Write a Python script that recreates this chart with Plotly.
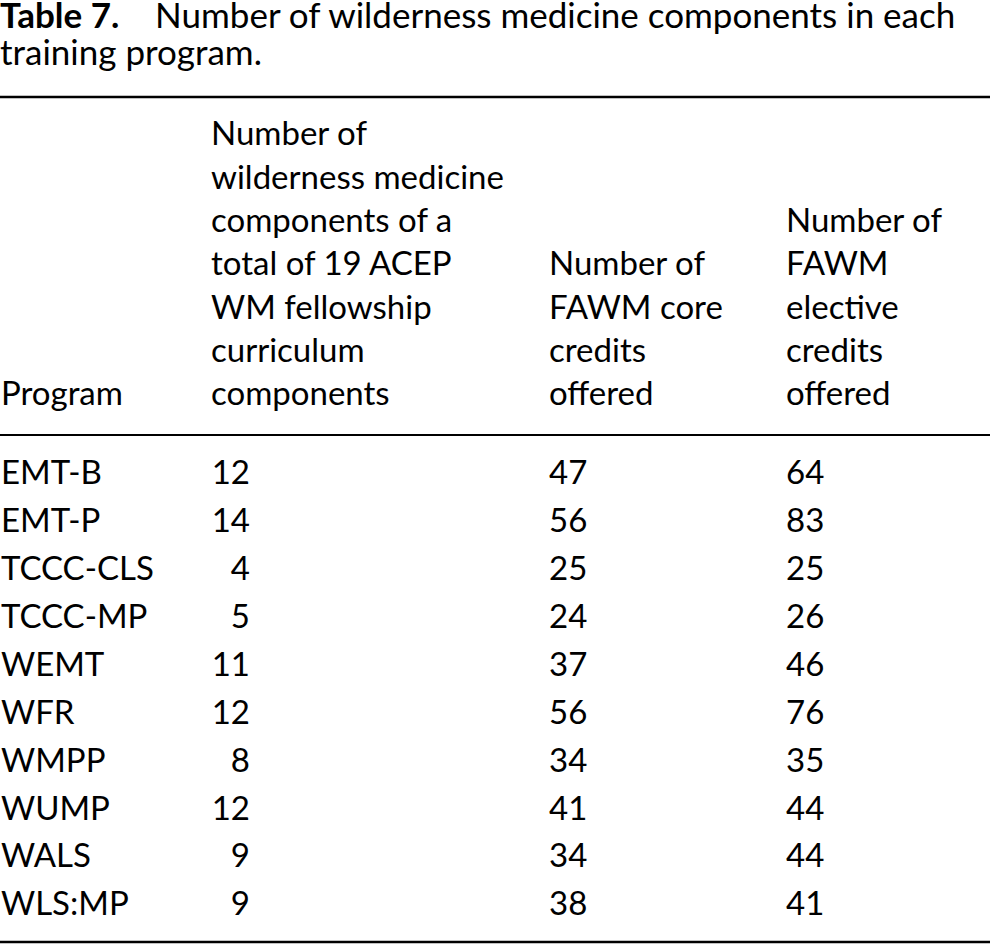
"""Table 7 rebuilt as a Plotly figure: wilderness medicine components per program."""

import plotly.graph_objects as go

FONT = "Lato"
SIZE = 33
TITLE_SIZE = 35

title_bold = "Table 7."
title_rest = "Number of wilderness medicine components in each"
title_line2 = "training program."

header_program = ["Program"]
header_components = ["Number of", "wilderness medicine", "components of a",
                     "total of 19 ACEP", "WM fellowship", "curriculum", "components"]
header_core = ["Number of", "FAWM core", "credits", "offered"]
header_elective = ["Number of", "FAWM", "elective", "credits", "offered"]

programs = ["EMT-B", "EMT-P", "TCCC-CLS", "TCCC-MP", "WEMT",
            "WFR", "WMPP", "WUMP", "WALS", "WLS:MP"]
wm_components = [12, 14, 4, 5, 11, 12, 8, 12, 9, 9]
core_credits = [47, 56, 25, 24, 37, 56, 34, 41, 34, 38]
elective_credits = [64, 83, 25, 26, 46, 76, 35, 44, 44, 41]

# page geometry in pixels (y grows downward); axes map 1:1 onto the page
PAGE_W, PAGE_H = 990, 945
row_top, row_step = 476, 47.9
head_bottom, head_step = 397, 43.3
col_x = [1, 211, 549, 786]
num_right = 250

row_y = [row_top + i * row_step for i in range(len(programs))]


def head_y(lines):
    n = len(lines)
    return [head_bottom - (n - 1 - i) * head_step for i in range(n)]


def text_trace(x, y, text, pos="middle right"):
    return go.Scatter(
        x=x, y=y, text=text, mode="text", textposition=pos,
        textfont=dict(family=FONT, size=SIZE, color="black"),
        hoverinfo="skip", showlegend=False, cliponaxis=False,
    )


fig = go.Figure()

for col, lines in zip(col_x, [header_program, header_components, header_core, header_elective]):
    fig.add_trace(text_trace([col] * len(lines), head_y(lines), lines))

fig.add_trace(text_trace([col_x[0]] * len(programs), row_y, programs))
fig.add_trace(text_trace([num_right] * len(row_y), row_y,
                         [str(v) for v in wm_components], pos="middle left"))
fig.add_trace(text_trace([col_x[2]] * len(row_y), row_y, [str(v) for v in core_credits]))
fig.add_trace(text_trace([col_x[3]] * len(row_y), row_y, [str(v) for v in elective_credits]))

# caption, placed in paper coordinates (pixel offset from the top)
gap = "&nbsp;" * 4
for top_px, txt in [(14, f"<b>{title_bold}</b>{gap}{title_rest}"), (51, title_line2)]:
    fig.add_annotation(
        x=0, y=1 - top_px / PAGE_H, xref="paper", yref="paper",
        xanchor="left", yanchor="middle", xshift=-1,
        text=txt, align="left", showarrow=False, borderpad=0,
        font=dict(family=FONT, size=TITLE_SIZE, color="black"),
    )

for y0, w in [(97, 2.6), (435, 2.2), (942, 2.6)]:
    fig.add_shape(type="line", xref="x", yref="y", x0=0, x1=PAGE_W, y0=y0, y1=y0,
                  line=dict(color="black", width=w))

fig.update_xaxes(range=[0, PAGE_W], visible=False, fixedrange=True)
fig.update_yaxes(range=[PAGE_H, 0], visible=False, fixedrange=True)
fig.update_layout(
    width=PAGE_W, height=PAGE_H,
    margin=dict(l=0, r=0, t=0, b=0),
    plot_bgcolor="white", paper_bgcolor="white",
)

# drop the default body margin so the figure sits flush with the window
fig.write_html("out.html", config={"displayModeBar": False},
               post_script="document.body.style.margin='0';")
